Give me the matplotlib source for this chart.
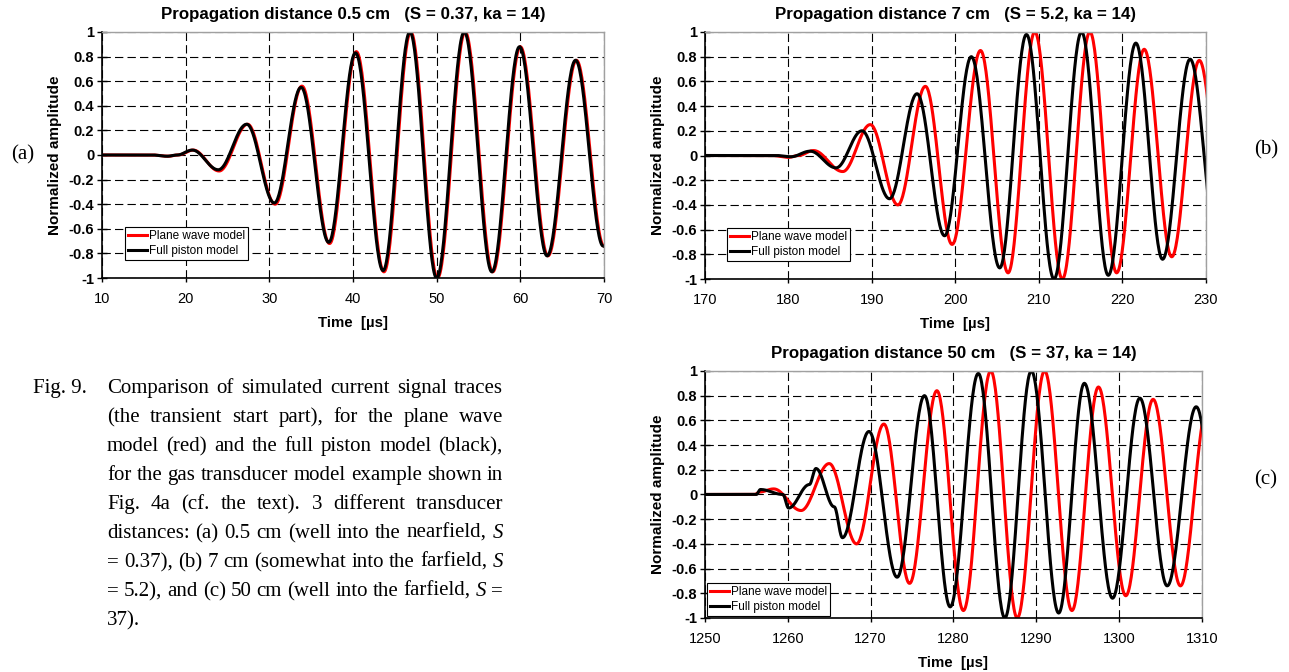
import matplotlib
matplotlib.use("Agg")
import matplotlib.pyplot as plt
import numpy as np

plt.rcParams["font.family"] = ["Liberation Sans", "DejaVu Sans"]
plt.rcParams["lines.scale_dashes"] = False

# extrema (time in µs, normalized amplitude)
A_BLACK_T = [10, 16, 17.8, 19.0, 20.8, 23.9, 27.3, 30.6, 33.8, 37.1, 40.3, 43.6, 46.8, 50.0,
             53.3, 56.6, 59.9, 63.2, 66.6, 69.9]
A_BLACK_V = [0, 0, -0.01, 0, 0.04, -0.12, 0.25, -0.39, 0.55, -0.71, 0.83, -0.94, 1.0, -1.0,
             1.0, -0.95, 0.88, -0.82, 0.77, -0.74]
A_RED_T = [10, 16, 17.9, 19.1, 20.9, 24.0, 27.4, 30.7, 33.9, 37.2, 40.4, 43.7, 46.9, 50.1,
           53.4, 56.7, 60.0, 63.3, 66.7, 70.0]
A_RED_V = [0, 0, -0.01, 0, 0.04, -0.13, 0.25, -0.40, 0.56, -0.72, 0.84, -0.95, 1.0, -1.0,
           1.0, -0.95, 0.88, -0.82, 0.77, -0.74]

B_RED_T = [170, 178, 180.0, 181.2, 183.0, 186.5, 189.8, 193.1, 196.4, 199.6, 203.0, 206.3,
           209.5, 212.8, 216.1, 219.3, 222.6, 225.9, 229.2, 232.5]
B_RED_V = [0, 0, -0.015, 0, 0.04, -0.13, 0.25, -0.40, 0.56, -0.72, 0.85, -0.95,
           1.0, -1.0, 1.0, -0.95, 0.86, -0.82, 0.77, -0.74]
B_BLACK_T = [170, 178.5, 180.3, 182.6, 185.7, 188.8, 192.1, 195.4, 198.7, 201.9, 205.3,
             208.5, 211.8, 215.1, 218.3, 221.6, 224.8, 228.1, 231.4]
B_BLACK_V = [0, 0, -0.01, 0.035, -0.10, 0.20, -0.35, 0.50, -0.65, 0.80, -0.91,
             0.98, -1.0, 1.0, -0.97, 0.91, -0.84, 0.78, -0.74]

C_RED_T = [1250, 1256.0, 1256.6, 1258.3, 1261.6, 1265.0, 1268.3, 1271.6, 1274.7, 1278.0,
           1281.2, 1284.5, 1287.7, 1291.0, 1294.3, 1297.5, 1300.8, 1304.1, 1307.4, 1310.7]
C_RED_V = [0, 0, 0.02, 0.045, -0.13, 0.25, -0.40, 0.57, -0.72, 0.84,
           -0.94, 1.0, -1.0, 1.0, -0.94, 0.87, -0.82, 0.77, -0.74, 0.72]
C_BLACK_T = [1250, 1256.2, 1256.7, 1259.4, 1260.1, 1262.6, 1263.4, 1265.6, 1266.6, 1269.8,
             1273.2, 1276.5, 1279.6, 1283.0, 1286.2, 1289.4, 1292.7, 1295.8, 1299.2,
             1302.5, 1305.8, 1309.3, 1312.6]
C_BLACK_V = [0, 0, 0.04, 0.0, -0.11, 0.08, 0.21, -0.10, -0.35, 0.51,
             -0.67, 0.80, -0.91, 0.98, -1.0, 1.0, -0.96, 0.90, -0.84,
             0.78, -0.74, 0.71, -0.68]

A_XTICKS = [10, 20, 30, 40, 50, 60, 70]
B_XTICKS = [170, 180, 190, 200, 210, 220, 230]
C_XTICKS = [1250, 1260, 1270, 1280, 1290, 1300, 1310]
Y_TICKS = [-1, -0.8, -0.6, -0.4, -0.2, 0, 0.2, 0.4, 0.6, 0.8, 1]
Y_LABELS = ["-1", "-0.8", "-0.6", "-0.4", "-0.2", "0", "0.2", "0.4", "0.6", "0.8", "1"]

TITLES = [
    "Propagation distance 0.5 cm   (S = 0.37, ka = 14)",
    "Propagation distance 7 cm   (S = 5.2, ka = 14)",
    "Propagation distance 50 cm   (S = 37, ka = 14)",
]
SERIES_NAMES = ["Plane wave model", "Full piston model"]

CAPTION = [
    "Comparison of simulated current signal traces",
    "(the transient start part), for the plane wave",
    "model (red) and the full piston model (black),",
    "for the gas transducer model example shown in",
    "Fig. 4a (cf. the text). 3 different transducer",
    "distances: (a) 0.5 cm (well into the nearfield, S",
    "= 0.37), (b) 7 cm (somewhat into the farfield, S",
    "= 5.2), and  (c) 50 cm (well into the farfield, S =",
    "37).",
]

RED = "#ff0000"
BLACK = "#000000"


def wave(tk, vk, n=40):
    # smooth half-cosine between successive extrema
    ts, vs = [], []
    for i in range(len(tk) - 1):
        s = np.linspace(0, 1, n, endpoint=False)
        ts.append(tk[i] + (tk[i + 1] - tk[i]) * s)
        vs.append(vk[i] + (vk[i + 1] - vk[i]) * (1 - np.cos(np.pi * s)) / 2)
    ts.append([tk[-1]])
    vs.append([vk[-1]])
    return np.concatenate(ts), np.concatenate(vs)


def style_axes(ax, xticks, title, leg_anchor):
    ax.set_xlim(xticks[0], xticks[-1])
    ax.set_ylim(-1, 1)
    ax.set_xticks(xticks)
    ax.set_yticks(Y_TICKS)
    ax.set_yticklabels(Y_LABELS, fontweight="bold")
    ax.tick_params(axis="y", direction="inout", length=7, width=1, pad=2, labelsize=10.5)
    ax.tick_params(axis="x", direction="out", length=3, width=1, pad=7, labelsize=10.5)
    ax.grid(True, color="black", linestyle=(0, (6, 3)), linewidth=0.8)
    for side in ("top", "right"):
        ax.spines[side].set_color("#a0a0a0")
        ax.spines[side].set_linewidth(1.0)
    for side in ("left", "bottom"):
        ax.spines[side].set_color("black")
        ax.spines[side].set_linewidth(1.2)
    ax.set_title(title, fontsize=12.2, fontweight="bold", pad=9)
    ax.set_xlabel("Time  [µs]", fontsize=10.8, fontweight="bold", labelpad=7)
    ax.set_ylabel("Normalized amplitude", fontsize=11, fontweight="bold", labelpad=5)
    leg = ax.legend(loc="lower left", bbox_to_anchor=leg_anchor, borderaxespad=0,
                    fontsize=8.5, handlelength=1.6, handletextpad=0.2,
                    labelspacing=0.25, borderpad=0.25, fancybox=False,
                    framealpha=1, edgecolor="black")
    leg.get_frame().set_linewidth(0.8)


def justified(fig, x0, x1, y, line, size, last=False):
    words = line.split()
    renderer = fig.canvas.get_renderer()
    arts = []
    for w in words:
        style = "italic" if w == "S" else "normal"
        t = fig.text(0, y, w, fontsize=size, family="Liberation Serif", style=style,
                     transform=None, va="baseline")
        arts.append(t)
    widths = [a.get_window_extent(renderer).width for a in arts]
    if last or len(words) == 1:
        gap = size * 0.25 * 100 / 72
    else:
        gap = (x1 - x0 - sum(widths)) / (len(words) - 1)
    x = x0
    for a, w in zip(arts, widths):
        a.set_position((x, y))
        x += w + gap


def main():
    fig = plt.figure(figsize=(12.89, 6.72), dpi=100)
    ax_a = fig.add_axes([0.0791, 0.5863, 0.3895, 0.3661])
    ax_b = fig.add_axes([0.5469, 0.5848, 0.3887, 0.3676])
    ax_c = fig.add_axes([0.5469, 0.0804, 0.3856, 0.3676])

    panels = [
        (ax_a, A_RED_T, A_RED_V, A_BLACK_T, A_BLACK_V, A_XTICKS, (0.046, 0.073)),
        (ax_b, B_RED_T, B_RED_V, B_BLACK_T, B_BLACK_V, B_XTICKS, (0.044, 0.073)),
        (ax_c, C_RED_T, C_RED_V, C_BLACK_T, C_BLACK_V, C_XTICKS, (0.004, 0.008)),
    ]
    for (ax, rt, rv, bt, bv, xt, anchor), title in zip(panels, TITLES):
        t, v = wave(rt, rv)
        ax.plot(t, v, color=RED, linewidth=2.2, label=SERIES_NAMES[0])
        t, v = wave(bt, bv)
        ax.plot(t, v, color=BLACK, linewidth=2.2, label=SERIES_NAMES[1])
        style_axes(ax, xt, title, anchor)

    serif = dict(family="Liberation Serif", fontsize=15, ha="center", va="center")
    fig.text(23 / 1289, 1 - 155 / 672, "(a)", **serif)
    fig.text(1266 / 1289, 1 - 150 / 672, "(b)", **serif)
    fig.text(1266 / 1289, 1 - 480 / 672, "(c)", **serif)

    # caption, placed in pixel coordinates (origin bottom-left)
    H = 672
    fig.text(33, H - 393, "Fig. 9.", fontsize=15, family="Liberation Serif",
             transform=None, va="baseline")
    for i, line in enumerate(CAPTION):
        justified(fig, 107, 503, H - 393 - 29 * i, line, 15, last=(i == len(CAPTION) - 1))

    fig.savefig("out.png", dpi=100)
    plt.close(fig)


if __name__ == "__main__":
    main()
